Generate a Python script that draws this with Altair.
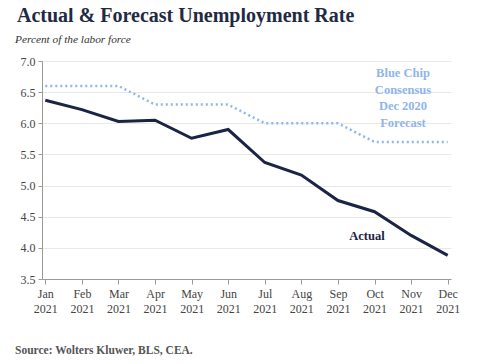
import altair as alt
import pandas as pd

months = ["Jan 2021", "Feb 2021", "Mar 2021", "Apr 2021", "May 2021", "Jun 2021",
          "Jul 2021", "Aug 2021", "Sep 2021", "Oct 2021", "Nov 2021", "Dec 2021"]
actual = [6.37, 6.22, 6.03, 6.05, 5.76, 5.90, 5.37, 5.17, 4.76, 4.58, 4.20, 3.88]
forecast = [6.6, 6.6, 6.6, 6.3, 6.3, 6.3, 6.0, 6.0, 6.0, 5.7, 5.7, 5.7]
y_ticks = [3.5, 4.0, 4.5, 5.0, 5.5, 6.0, 6.5, 7.0]

title_text = "Actual & Forecast Unemployment Rate"
subtitle_text = "Percent of the labor force"
source_text = "Source: Wolters Kluwer, BLS, CEA."
forecast_label = ["Blue Chip", "Consensus", "Dec 2020", "Forecast"]
actual_label = "Actual"

NAVY = "#1b2444"
LIGHTBLUE = "#8fb6ea"
FONT = "Liberation Serif"

df = pd.DataFrame({"month": months, "actual": actual, "forecast": forecast})

x_axis = alt.Axis(labelExpr="split(datum.label, ' ')", labelAngle=0,
                  labelFont=FONT, labelFontSize=12, labelColor="#444444",
                  labelLineHeight=15.5, labelPadding=4, labelOverlap=False,
                  domainColor="#9a9a9a", tickColor="#9a9a9a", tickSize=5,
                  grid=False)
x_scale = alt.Scale(type="point", padding=0.09)
y_scale = alt.Scale(domain=[3.5, 7.0], nice=False, zero=False)
y_axis = alt.Axis(values=y_ticks, format=".1f", title=None, labelOverlap=False,
                  tickCount=8, labelFont=FONT, labelFontSize=12, labelColor="#444444",
                  domainColor="#9a9a9a", tickColor="#9a9a9a", tickSize=4,
                  gridColor="#e8e8e8", gridWidth=1, labelPadding=3)

base = alt.Chart(df)

fc_line = base.mark_line(color=LIGHTBLUE, strokeWidth=2.5, strokeDash=[2, 3]).encode(
    x=alt.X("month:O", sort=months, title=None, scale=x_scale, axis=x_axis),
    y=alt.Y("forecast:Q", scale=y_scale, axis=y_axis))
act_line = base.mark_line(color=NAVY, strokeWidth=3).encode(
    x=alt.X("month:O", sort=months, title=None, scale=x_scale, axis=x_axis),
    y=alt.Y("actual:Q", scale=y_scale, axis=y_axis))

one = alt.Data(values=[{"a": 1}])

def txt(text, x, y, size, color, weight="normal", style="normal", align="left", lh=None):
    kw = dict(font=FONT, fontSize=size, color=color, fontWeight=weight,
              fontStyle=style, align=align, baseline="middle")
    if lh is not None:
        kw["lineHeight"] = lh
    return alt.Chart(one).mark_text(**kw).encode(
        x=alt.value(x), y=alt.value(y), text=alt.value(text))

title = txt(title_text, -25, -45, 20, "#1f2a44", weight="bold")
subtitle = txt(subtitle_text, -27, -21, 11.3, "#333333", style="italic")
source = txt(source_text, -27, 290, 11.5, "#555555", weight="bold")
fc_text = txt(forecast_label, 361, 12, 12.5, LIGHTBLUE, weight="bold", align="center", lh=16.5)
act_text = txt(actual_label, 325, 175, 12.5, NAVY, weight="bold", align="center")

chart = alt.layer(fc_line, act_line, fc_text, act_text, title, subtitle, source).properties(
    width=409, height=218,
    autosize=alt.AutoSizeParams(type="none"),
    padding={"left": 34, "top": 53, "right": 13, "bottom": 77},
    background="white",
).configure_view(strokeWidth=0, stroke="transparent")

chart.save("out.html", embed_options={"renderer": "svg", "actions": False})
